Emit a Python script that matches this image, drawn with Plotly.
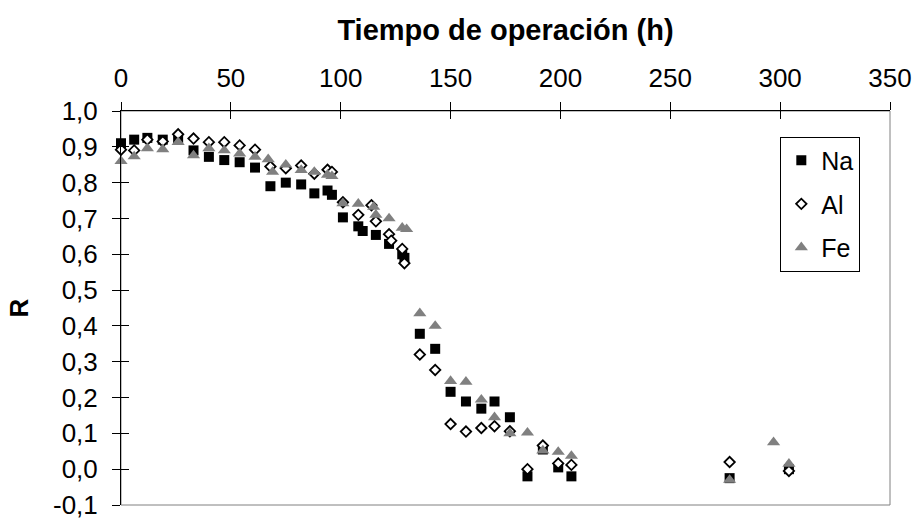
import plotly.graph_objects as go

# ---- data ----
na_t = [0, 6, 12, 19, 26, 33, 40, 47, 54, 61, 68, 75, 82, 88, 94, 96, 101, 108, 110, 116,
        122, 128, 129, 136, 143, 150, 157, 164, 170, 177, 185, 192, 199, 205, 277, 304]
na_r = [0.91, 0.92, 0.925, 0.92, 0.923, 0.89, 0.872, 0.863, 0.857, 0.842, 0.79, 0.80, 0.795,
        0.77, 0.778, 0.766, 0.703, 0.678, 0.665, 0.654, 0.629, 0.60, 0.59, 0.378, 0.336,
        0.216, 0.189, 0.169, 0.189, 0.145, -0.02, 0.055, 0.005, -0.02, -0.025, 0.0]

al_t = [0, 6, 12, 19, 26, 33, 40, 47, 54, 61, 68, 75, 82, 88, 94, 96, 101, 108, 114, 116,
        122, 123, 128, 129, 136, 143, 150, 157, 164, 170, 177, 185, 192, 199, 205, 277, 304]
al_r = [0.892, 0.89, 0.92, 0.915, 0.935, 0.923, 0.913, 0.913, 0.904, 0.892, 0.845, 0.84,
        0.848, 0.825, 0.836, 0.83, 0.745, 0.71, 0.737, 0.692, 0.656, 0.638, 0.615, 0.575,
        0.32, 0.277, 0.126, 0.105, 0.115, 0.12, 0.106, 0.0, 0.066, 0.016, 0.012, 0.02, -0.005]

fe_t = [0, 6, 12, 19, 26, 33, 40, 47, 54, 61, 67, 69, 75, 82, 88, 94, 96, 101, 108, 115, 116,
        122, 128, 130, 136, 143, 150, 157, 164, 170, 177, 185, 192, 199, 205, 277, 297, 304]
fe_r = [0.86, 0.873, 0.896, 0.893, 0.913, 0.876, 0.896, 0.89, 0.881, 0.872, 0.865, 0.83,
        0.85, 0.835, 0.83, 0.822, 0.818, 0.742, 0.741, 0.732, 0.71, 0.70, 0.674, 0.67,
        0.435, 0.40, 0.246, 0.244, 0.194, 0.145, 0.10, 0.102, 0.052, 0.048, 0.037, -0.03,
        0.075, 0.015]

x_ticks = [0, 50, 100, 150, 200, 250, 300, 350]
y_ticks = [-0.1, 0.0, 0.1, 0.2, 0.3, 0.4, 0.5, 0.6, 0.7, 0.8, 0.9, 1.0]
y_tick_labels = ["-0,1", "0,0", "0,1", "0,2", "0,3", "0,4", "0,5", "0,6", "0,7", "0,8", "0,9", "1,0"]

FONT = "Liberation Sans, Arial, sans-serif"
GRAY = "#808080"
TICK_FS = 26

fig = go.Figure()

series = [
    ("Na", na_t, na_r, dict(symbol="square", size=10, color="black", line=dict(width=0))),
    ("Al", al_t, al_r, dict(symbol="diamond", size=8, color="white", line=dict(color="black", width=1.8))),
    ("Fe", fe_t, fe_r, dict(symbol="triangle-up", size=11.5, color=GRAY, line=dict(width=0))),
]

for name, t, r, mk in series:
    fig.add_trace(go.Scatter(x=t, y=r, mode="markers", name=name, marker=mk,
                             legendgroup=name, showlegend=True, cliponaxis=False))

# overlay axes carrying the inner half of the crossing tick marks
fig.add_trace(go.Scatter(x=[None], y=[None], xaxis="x2", yaxis="y2",
                         showlegend=False, hoverinfo="skip"))

fig.update_layout(
    width=924, height=532,
    margin=dict(l=121, r=25, t=111, b=14),
    paper_bgcolor="white", plot_bgcolor="white",
    font=dict(family=FONT, size=TICK_FS, color="black"),
    showlegend=True,
    legend=dict(x=0.9614, y=0.935, xanchor="right", yanchor="top",
                bordercolor="black", borderwidth=1, bgcolor="white",
                font=dict(size=25, family=FONT), traceorder="grouped",
                tracegroupgap=8, itemwidth=30),
    # light gray plot-area border (right and bottom edges show)
    shapes=[dict(type="rect", xref="paper", yref="paper", x0=0, x1=1, y0=0, y1=1,
                 line=dict(color=GRAY, width=1), layer="below")],
    xaxis=dict(range=[0, 350], side="top", tickvals=x_ticks, ticktext=[str(v) for v in x_ticks],
               ticks="outside", ticklen=8, tickcolor="black", tickwidth=1,
               ticklabelstandoff=5, ticklabeloverflow="allow",
               showline=True, linecolor="black", linewidth=1, showgrid=False,
               zeroline=False, tickfont=dict(size=TICK_FS),
               title=dict(text="<b>Tiempo de operación (h)</b>", font=dict(size=29), standoff=13)),
    yaxis=dict(range=[-0.1, 1.0], tickvals=y_ticks, ticktext=y_tick_labels,
               ticks="outside", ticklen=8, tickcolor="black", tickwidth=1,
               ticklabelstandoff=9, ticklabeloverflow="allow",
               showline=True, linecolor="black", linewidth=1, showgrid=False,
               zeroline=False, tickfont=dict(size=TICK_FS),
               title=dict(text="<b>R</b>", font=dict(size=26), standoff=16)),
    xaxis2=dict(range=[0, 350], overlaying="x", side="top", anchor="y2",
                tickvals=x_ticks, ticks="inside", ticklen=8, tickcolor="black",
                tickwidth=1, showticklabels=False, showline=False, showgrid=False,
                zeroline=False),
    yaxis2=dict(range=[-0.1, 1.0], overlaying="y", side="left", anchor="x2",
                tickvals=y_ticks, ticks="inside", ticklen=8, tickcolor="black",
                tickwidth=1, showticklabels=False, showline=False, showgrid=False,
                zeroline=False),
)

fig.write_html("out.html")
